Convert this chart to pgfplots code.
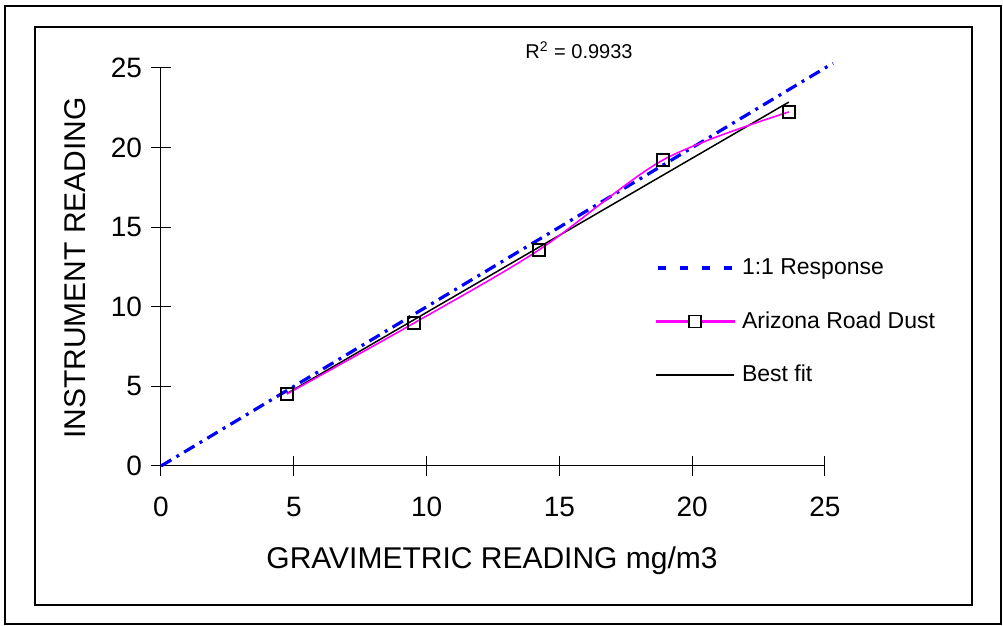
\documentclass[border=0pt]{standalone}
\usepackage{pgfplots}
\pgfplotsset{compat=1.18}
\usepackage{fontspec}
\setmainfont{Liberation Sans}
\definecolor{oneblue}{RGB}{0,0,255}
\definecolor{magline}{RGB}{255,0,255}
\begin{document}
\begin{tikzpicture}
\useasboundingbox (-80.5pt,-80pt) rectangle (421pt,233pt);
\draw[line width=1pt] (-78pt,-79pt) rectangle (420pt,230pt);
\draw[line width=0.8pt] (-63pt,-69.5pt) rectangle (405.5pt,219.5pt);
\begin{axis}[
  at={(0pt,0pt)}, anchor=origin,
  scale only axis, width=332pt, height=199pt,
  xmin=0, xmax=25, ymin=0, ymax=25,
  axis x line*=bottom, axis y line*=left,
  axis line style={line width=0.5pt, -},
  xtick={0,5,...,25}, ytick={0,5,...,25},
  tick align=center, major tick length=10pt,
  tick style={line width=0.5pt, black},
  /pgf/number format/assume math mode=true,
  ticklabel style={font=\fontsize{14}{16}\selectfont},
  xticklabel style={yshift=-7pt},
  yticklabel style={xshift=-1pt},
  clip=false,
  legend cell align=left,
  legend style={draw=none, fill=none, at={(0.744,0.362)}, anchor=west,
    font=\fontsize{11.5}{13}\selectfont, inner sep=0pt, row sep=13pt},
]
\addlegendimage{legend image code/.code={\draw[oneblue, line width=1.8pt, dash pattern=on 4pt off 7pt] (1pt,0pt) -- (40pt,0pt);}}
\addlegendentry{1:1 Response}
\addlegendimage{legend image code/.code={\fill[magline] (0pt,-0.5pt) rectangle (39pt,0.5pt);
    \filldraw[draw=black, fill=white, line width=0.9pt] (16.5pt,-3pt) rectangle (22.5pt,3pt);}}
\addlegendentry{Arizona Road Dust}
\addlegendimage{legend image code/.code={\draw[black, line width=0.8pt] (0pt,0pt) -- (39pt,0pt);}}
\addlegendentry{Best fit}
\addplot[oneblue, line width=1.6pt, dash pattern=on 6pt off 3pt on 1.5pt off 3pt, forget plot]
  coordinates {(0,0) (25.3,25.3)};
\addplot[black, line width=0.75pt, forget plot]
  coordinates {(4.74,4.55) (23.64,22.86)};
\addplot[magline, line width=0.8pt, smooth, mark=square, mark size=3pt,
  mark options={black, fill=white, line width=0.9pt, solid}, forget plot]
  coordinates {(4.74,4.52) (9.53,8.98) (14.23,13.57) (18.9,19.22) (23.64,22.24)};
\end{axis}
\node[font=\fontsize{15}{17}\selectfont] at (165.5pt,-47.5pt) {GRAVIMETRIC READING mg/m3};
\node[font=\fontsize{15}{17}\selectfont, rotate=90] at (-43pt,99pt) {INSTRUMENT READING};
\node[font=\fontsize{10}{12}\selectfont] at (209pt,208pt) {R\textsuperscript{2} = 0.9933};
\end{tikzpicture}
\end{document}
